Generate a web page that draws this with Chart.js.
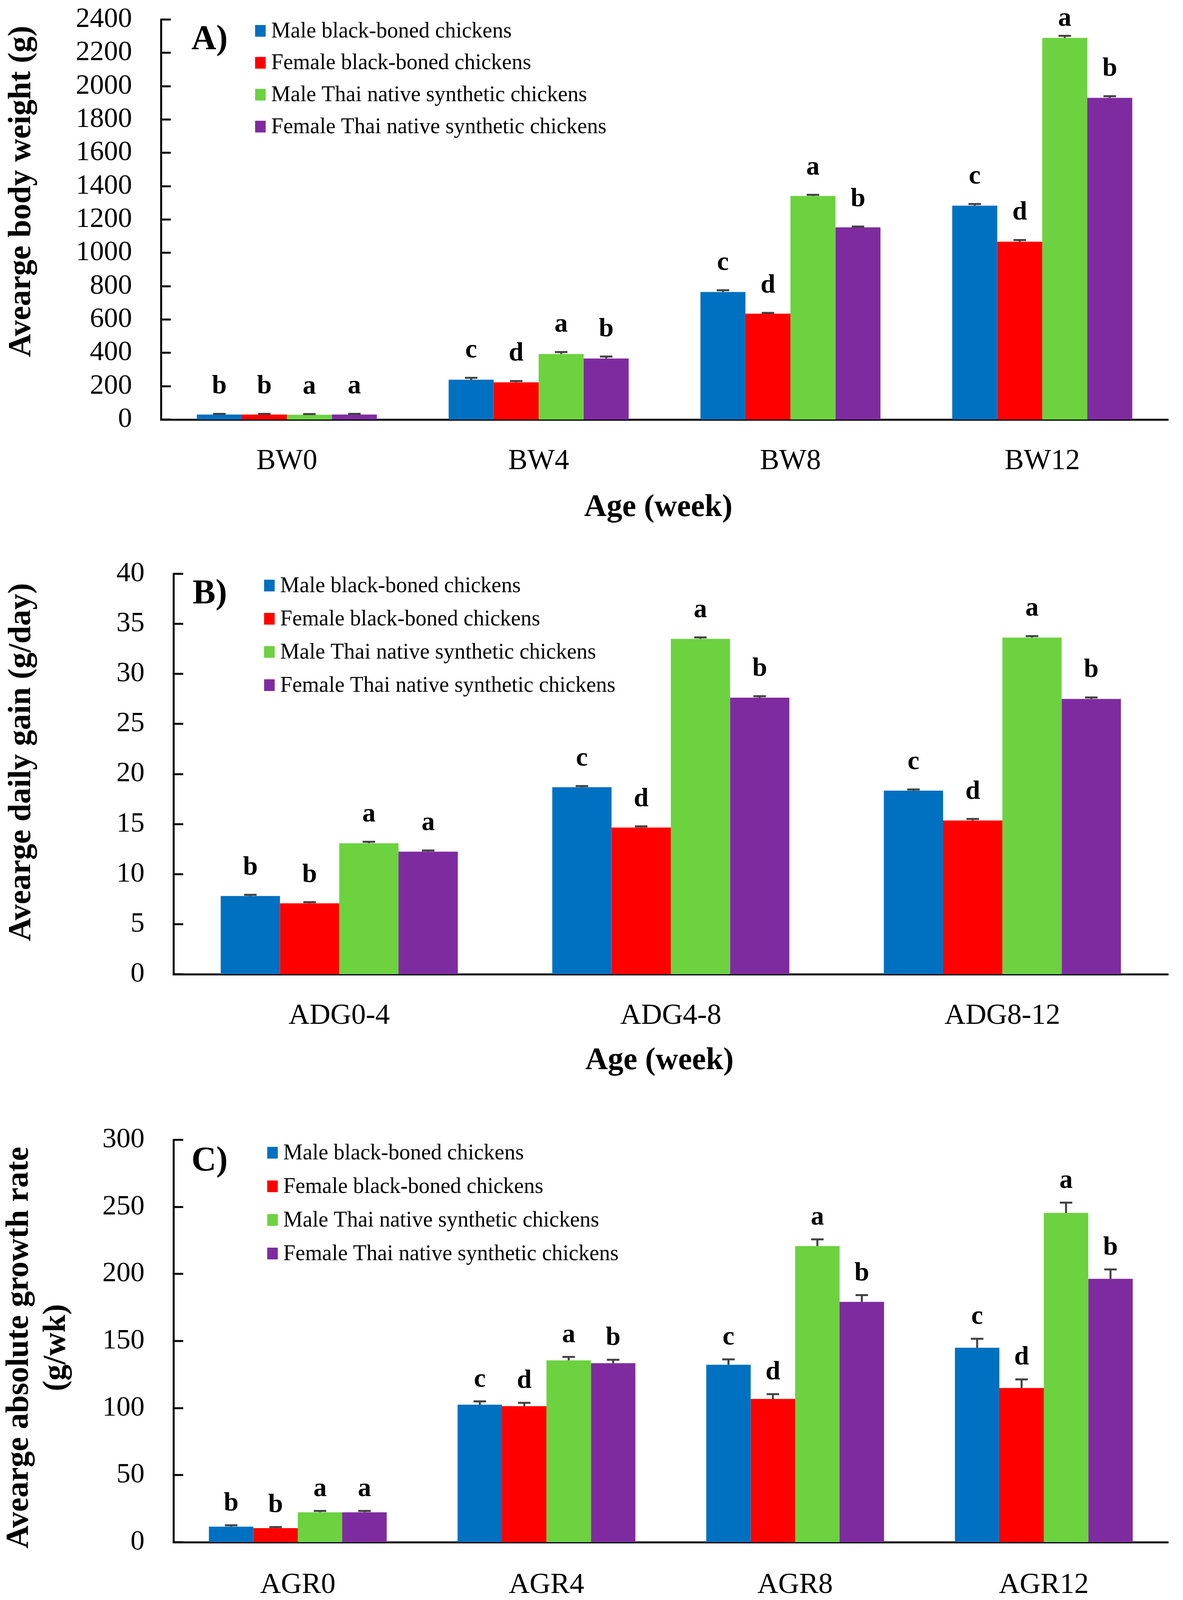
<!DOCTYPE html>
<html><head><meta charset="utf-8">
<script src="https://cdn.jsdelivr.net/npm/chart.js@4.4.1/dist/chart.umd.min.js"></script>
<style>
html,body{margin:0;padding:0;background:#fff;}
body{width:3028px;height:4233px;position:relative;overflow:hidden;}
.panel{position:absolute;left:0;width:3028px;}
</style></head><body>
<div class="panel" style="top:0px;height:1390px"><canvas id="cA" width="3028" height="1390"></canvas></div>
<div class="panel" style="top:1390px;height:1400px"><canvas id="cB" width="3028" height="1400"></canvas></div>
<div class="panel" style="top:2800px;height:1433px"><canvas id="cC" width="3028" height="1433"></canvas></div>
<script>
// ---------------- DATA ----------------
const seriesNames = ['Male black-boned chickens', 'Female black-boned chickens', 'Male Thai native synthetic chickens', 'Female Thai native synthetic chickens'];

// Panel A: body weight (g)
const bwLabels = ['BW0', 'BW4', 'BW8', 'BW12'];
const bwMaleBB = [30, 239, 765, 1283];
const bwFemaleBB = [30, 223, 635, 1067];
const bwMaleTN = [29, 393, 1341, 2290];
const bwFemaleTN = [30, 366, 1153, 1930];
const bwErrMaleBB = [4, 11, 11, 10];
const bwErrFemaleBB = [4, 8, 5, 10];
const bwErrMaleTN = [4, 12, 7, 12];
const bwErrFemaleTN = [4, 12, 5, 10];
const bwLetMaleBB = ['b', 'c', 'c', 'c'];
const bwLetFemaleBB = ['b', 'd', 'd', 'd'];
const bwLetMaleTN = ['a', 'a', 'a', 'a'];
const bwLetFemaleTN = ['a', 'b', 'b', 'b'];
const bwTicks = {min: 0, max: 2400, step: 200};

// Panel B: average daily gain (g/day)
const adgLabels = ['ADG0-4', 'ADG4-8', 'ADG8-12'];
const adgMaleBB = [7.81, 18.68, 18.34];
const adgFemaleBB = [7.08, 14.65, 15.36];
const adgMaleTN = [13.08, 33.5, 33.63];
const adgFemaleTN = [12.24, 27.63, 27.5];
const adgErrMaleBB = [0.12, 0.12, 0.12];
const adgErrFemaleBB = [0.12, 0.12, 0.15];
const adgErrMaleTN = [0.15, 0.15, 0.15];
const adgErrFemaleTN = [0.12, 0.15, 0.15];
const adgLetMaleBB = ['b', 'c', 'c'];
const adgLetFemaleBB = ['b', 'd', 'd'];
const adgLetMaleTN = ['a', 'a', 'a'];
const adgLetFemaleTN = ['a', 'b', 'b'];
const adgTicks = {min: 0, max: 40, step: 5};

// Panel C: average absolute growth rate (g/wk)
const agrLabels = ['AGR0', 'AGR4', 'AGR8', 'AGR12'];
const agrMaleBB = [11.6, 102.5, 132.3, 145];
const agrFemaleBB = [10.5, 101.4, 106.8, 115];
const agrMaleTN = [22.3, 135.6, 220.8, 245.5];
const agrFemaleTN = [22.3, 133.5, 179.2, 196.4];
const agrErrMaleBB = [1, 2.5, 4, 6.7];
const agrErrFemaleBB = [0.8, 2.5, 3.6, 6.4];
const agrErrMaleTN = [1, 2.5, 5, 7.7];
const agrErrFemaleTN = [1, 2.5, 5, 7];
const agrLetMaleBB = ['b', 'c', 'c', 'c'];
const agrLetFemaleBB = ['b', 'd', 'd', 'd'];
const agrLetMaleTN = ['a', 'a', 'a', 'a'];
const agrLetFemaleTN = ['a', 'b', 'b', 'b'];
const agrTicks = {min: 0, max: 300, step: 50};

// ---------------- STYLE ----------------
const seriesColors = ['#0070C0', '#FF0000', '#6CD240', '#7F2BA0'];
const SERIF = '"Liberation Serif", "Times New Roman", serif';

const decor = {
  id: 'decor',
  afterDatasetsDraw(chart, args, o) {
    const ctx = chart.ctx, ys = chart.scales.y, ca = chart.chartArea;
    ctx.save();
    // inward y tick marks
    ctx.strokeStyle = '#000'; ctx.lineWidth = 5;
    ys.ticks.forEach(t => {
      const py = Math.round(ys.getPixelForValue(t.value));
      ctx.beginPath(); ctx.moveTo(ca.left, py); ctx.lineTo(ca.left + 25, py); ctx.stroke();
    });
    // error bars + letters
    chart.data.datasets.forEach((ds, i) => {
      const meta = chart.getDatasetMeta(i);
      meta.data.forEach((bar, j) => {
        const v = ds.data[j], e = ds.errors[j];
        const yb = ys.getPixelForValue(v), yt = ys.getPixelForValue(v + e);
        ctx.strokeStyle = '#404040'; ctx.lineWidth = 5;
        ctx.beginPath();
        ctx.moveTo(bar.x, yb); ctx.lineTo(bar.x, yt);
        ctx.moveTo(bar.x - 16, yt); ctx.lineTo(bar.x + 16, yt);
        ctx.stroke();
        let ly = yt - o.letterGap;
        if (ly < ca.top + 16) ly = ca.top + 16;
        ctx.font = 'bold 68px ' + SERIF;
        ctx.fillStyle = '#000'; ctx.textAlign = 'center'; ctx.textBaseline = 'alphabetic';
        ctx.fillText(ds.letters[j], bar.x, ly);
      });
    });
    // legend
    ctx.font = '56px ' + SERIF; ctx.textAlign = 'left'; ctx.textBaseline = 'middle';
    chart.data.datasets.forEach((ds, i) => {
      const ry = o.legendY + i * o.legendStep;
      ctx.fillStyle = ds.backgroundColor;
      ctx.fillRect(o.legendX, ry - 15, 27, 30);
      ctx.fillStyle = '#000';
      ctx.fillText(ds.label, o.legendX + 41, ry + 2);
    });
    // panel label
    ctx.font = 'bold 88px ' + SERIF; ctx.textBaseline = 'middle'; ctx.textAlign = 'left';
    ctx.fillText(o.panelLabel, o.panelX, o.panelY);
    // x title
    ctx.font = 'bold 80px ' + SERIF; ctx.textAlign = 'center';
    ctx.fillText(o.xTitle, o.xTitleX, o.xTitleY);
    // y title (rotated, possibly multi-line)
    o.yTitle.forEach((line, k) => {
      ctx.save();
      ctx.translate(o.yTitleX[k], o.yTitleY);
      ctx.rotate(-Math.PI / 2);
      ctx.font = 'bold 82px ' + SERIF; ctx.textAlign = 'center'; ctx.textBaseline = 'middle';
      ctx.fillText(line, 0, 0);
      ctx.restore();
    });
    ctx.restore();
  }
};

function makeDatasets(vals, errs, lets) {
  return vals.map((v, i) => ({
    label: seriesNames[i], data: v, errors: errs[i], letters: lets[i],
    backgroundColor: seriesColors[i], borderWidth: 0,
    categoryPercentage: 0.715, barPercentage: 1.0
  }));
}

function makeChart(id, labels, datasets, tk, d) {
  return new Chart(document.getElementById(id), {
    type: 'bar',
    data: {labels: labels, datasets: datasets},
    plugins: [decor],
    options: {
      responsive: false, animation: false, devicePixelRatio: 1,
      layout: {padding: {top: d.top, right: d.right, left: 0, bottom: 0}},
      plugins: {legend: {display: false}, tooltip: {enabled: false}, decor: d},
      scales: {
        x: {
          grid: {display: false, drawTicks: false},
          border: {display: true, color: '#000', width: 5},
          ticks: {color: '#000', font: {family: SERIF, size: 74}, padding: d.xPad, maxRotation: 0, autoSkip: false},
          afterFit: s => { s.height = d.xHeight; s.paddingLeft = 0; s.paddingRight = 0; }
        },
        y: {
          min: tk.min, max: tk.max,
          grid: {display: false, drawTicks: false},
          border: {display: true, color: '#000', width: 5},
          ticks: {stepSize: tk.step, autoSkip: false, color: '#000', font: {family: SERIF, size: 72}, padding: 74,
                  callback: v => String(v)},
          afterFit: s => { s.width = d.left; s.paddingTop = 0; s.paddingBottom = 0; }
        }
      }
    }
  });
}

makeChart('cA', bwLabels,
  makeDatasets([bwMaleBB, bwFemaleBB, bwMaleTN, bwFemaleTN],
               [bwErrMaleBB, bwErrFemaleBB, bwErrMaleTN, bwErrFemaleTN],
               [bwLetMaleBB, bwLetFemaleBB, bwLetMaleTN, bwLetFemaleTN]),
  bwTicks,
  {top: 50, right: 38, left: 412, xHeight: 316, xPad: 63, letterGap: 52,
   legendX: 653, legendY: 79, legendStep: 81.7,
   panelLabel: 'A)', panelX: 490, panelY: 102,
   xTitle: 'Age (week)', xTitleX: 1685, xTitleY: 1300,
   yTitle: ['Avearge body weight (g)'], yTitleX: [56], yTitleY: 490});

makeChart('cB', adgLabels,
  makeDatasets([adgMaleBB, adgFemaleBB, adgMaleTN, adgFemaleTN],
               [adgErrMaleBB, adgErrFemaleBB, adgErrMaleTN, adgErrFemaleTN],
               [adgLetMaleBB, adgLetFemaleBB, adgLetMaleTN, adgLetFemaleTN]),
  adgTicks,
  {top: 79, right: 38, left: 444, xHeight: 296, xPad: 63, letterGap: 52,
   legendX: 676, legendY: 109, legendStep: 85,
   panelLabel: 'B)', panelX: 493, panelY: 131,
   xTitle: 'Age (week)', xTitleX: 1688, xTitleY: 1326,
   yTitle: ['Avearge daily gain (g/day)'], yTitleX: [56], yTitleY: 561});

makeChart('cC', agrLabels,
  makeDatasets([agrMaleBB, agrFemaleBB, agrMaleTN, agrFemaleTN],
               [agrErrMaleBB, agrErrFemaleBB, agrErrMaleTN, agrErrFemaleTN],
               [agrLetMaleBB, agrLetFemaleBB, agrLetMaleTN, agrLetFemaleTN]),
  agrTicks,
  {top: 118, right: 38, left: 444, xHeight: 285, xPad: 66, letterGap: 38,
   legendX: 684, legendY: 151, legendStep: 86,
   panelLabel: 'C)', panelX: 490, panelY: 173,
   xTitle: 'Age (week)', xTitleX: 1688, xTitleY: 1373,
   yTitle: ['Avearge absolute growth rate', '(g/wk)'], yTitleX: [50, 145], yTitleY: 650});
</script>
</body></html>
